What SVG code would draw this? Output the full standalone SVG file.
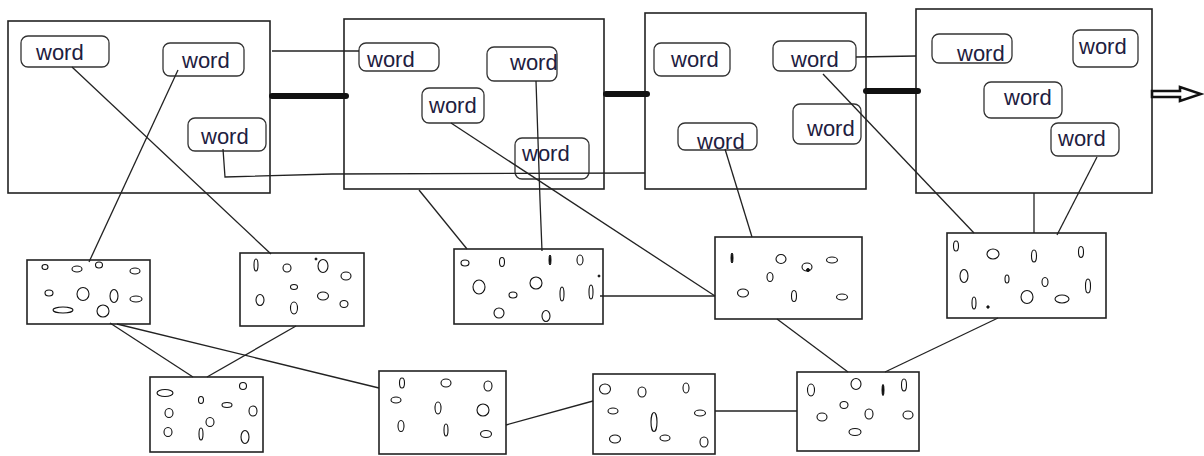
<svg xmlns="http://www.w3.org/2000/svg" width="1204" height="456" viewBox="0 0 1204 456">
<style>
.frame{fill:none;stroke:#222;stroke-width:1.6}
.wbox{fill:none;stroke:#333;stroke-width:1.3}
.wt{font-family:"Liberation Sans",Arial,sans-serif;font-size:22px;fill:#1e2040}
.pool{fill:none;stroke:#222;stroke-width:1.6}
.e{fill:none;stroke:#111;stroke-width:1.1}
.f{fill:#111;stroke:#111;stroke-width:1}
.ln{fill:none;stroke:#222;stroke-width:1.3}
.thick{fill:none;stroke:#111;stroke-width:6;stroke-linecap:round}
</style>
<rect x="0" y="0" width="1204" height="456" fill="#ffffff"/>

<!-- top frames -->
<g id="frame1"><rect class="frame" x="8" y="21" width="262" height="172"/></g>
<g id="frame2"><rect class="frame" x="344" y="19" width="260" height="170"/></g>
<g id="frame3"><rect class="frame" x="645" y="13" width="221" height="176"/></g>
<g id="frame4"><rect class="frame" x="916" y="9" width="236" height="184"/></g>

<!-- word nodes -->
<g id="w1"><rect class="wbox" x="21" y="36" width="88" height="31" rx="7"/><text class="wt" x="36" y="60">word</text></g>
<g id="w2"><rect class="wbox" x="163" y="43" width="81" height="33" rx="7"/><text class="wt" x="182" y="68">word</text></g>
<g id="w3"><rect class="wbox" x="188" y="118" width="78" height="33" rx="7"/><text class="wt" x="201" y="144">word</text></g>
<g id="w4"><rect class="wbox" x="359" y="43" width="80" height="28" rx="7"/><text class="wt" x="367" y="67">word</text></g>
<g id="w5"><rect class="wbox" x="487" y="47" width="70" height="34" rx="7"/><text class="wt" x="510" y="70">word</text></g>
<g id="w6"><rect class="wbox" x="422" y="88" width="62" height="35" rx="7"/><text class="wt" x="429" y="113">word</text></g>
<g id="w7"><rect class="wbox" x="515" y="138" width="74" height="41" rx="7"/><text class="wt" x="522" y="161">word</text></g>
<g id="w8"><rect class="wbox" x="654" y="43" width="76" height="33" rx="7"/><text class="wt" x="671" y="67">word</text></g>
<g id="w9"><rect class="wbox" x="773" y="41" width="83" height="30" rx="7"/><text class="wt" x="791" y="67">word</text></g>
<g id="w10"><rect class="wbox" x="793" y="104" width="68" height="40" rx="7"/><text class="wt" x="807" y="136">word</text></g>
<g id="w11"><rect class="wbox" x="678" y="123" width="79" height="27" rx="7"/><text class="wt" x="697" y="149">word</text></g>
<g id="w12"><rect class="wbox" x="932" y="34" width="80" height="29" rx="7"/><text class="wt" x="957" y="61">word</text></g>
<g id="w13"><rect class="wbox" x="1073" y="30" width="65" height="37" rx="7"/><text class="wt" x="1079" y="54">word</text></g>
<g id="w14"><rect class="wbox" x="984" y="82" width="78" height="36" rx="7"/><text class="wt" x="1004" y="105">word</text></g>
<g id="w15"><rect class="wbox" x="1051" y="123" width="68" height="33" rx="7"/><text class="wt" x="1058" y="146">word</text></g>

<!-- bottom pools -->
<g id="b1"><rect class="pool" x="27" y="260" width="123" height="64"/>
<ellipse class="e" cx="45" cy="267" rx="3" ry="2.5"/><ellipse class="e" cx="77" cy="269" rx="5" ry="3"/><ellipse class="e" cx="99" cy="265" rx="3.5" ry="3"/><ellipse class="e" cx="135" cy="271" rx="5" ry="3"/>
<ellipse class="e" cx="49" cy="293" rx="4" ry="3"/><ellipse class="e" cx="83" cy="294" rx="6" ry="6.5"/><ellipse class="e" cx="114" cy="296" rx="4" ry="6.5"/><ellipse class="e" cx="136" cy="299" rx="6" ry="3"/>
<ellipse class="e" cx="63" cy="310" rx="10" ry="3"/><ellipse class="e" cx="103" cy="311" rx="6" ry="6"/></g>
<g id="b2"><rect class="pool" x="240" y="253" width="124" height="73"/>
<ellipse class="e" cx="256" cy="265" rx="2" ry="6"/><ellipse class="e" cx="287" cy="268" rx="4" ry="4"/><circle class="f" cx="316" cy="259" r="1"/><ellipse class="e" cx="323" cy="266" rx="5" ry="6.5"/><ellipse class="e" cx="346" cy="276" rx="5" ry="4"/>
<ellipse class="e" cx="294" cy="287" rx="3.5" ry="2.5"/><ellipse class="e" cx="260" cy="300" rx="4" ry="5.5"/><ellipse class="e" cx="294" cy="308" rx="3.5" ry="6"/><ellipse class="e" cx="323" cy="296" rx="5.5" ry="4"/><ellipse class="e" cx="344" cy="304" rx="4" ry="3.5"/></g>
<g id="b3"><rect class="pool" x="454" y="249" width="149" height="75"/>
<ellipse class="e" cx="465" cy="263" rx="4" ry="3"/><ellipse class="e" cx="502" cy="262" rx="2.5" ry="4.5"/><ellipse class="f" cx="550" cy="260" rx="1" ry="5"/><ellipse class="e" cx="580" cy="260" rx="3" ry="5"/><circle class="f" cx="599" cy="276" r="1"/>
<ellipse class="e" cx="479" cy="287" rx="6" ry="7"/><ellipse class="e" cx="513" cy="295" rx="4" ry="3"/><ellipse class="e" cx="536" cy="283" rx="6" ry="6"/><ellipse class="e" cx="562" cy="294" rx="2" ry="7"/><ellipse class="e" cx="591" cy="292" rx="2" ry="7"/>
<ellipse class="e" cx="499" cy="313" rx="5" ry="5"/><ellipse class="e" cx="546" cy="316" rx="4" ry="5.5"/></g>
<g id="b4"><rect class="pool" x="715" y="237" width="147" height="82"/>
<ellipse class="f" cx="732" cy="258" rx="1" ry="5"/><ellipse class="e" cx="781" cy="259" rx="5" ry="4.5"/><ellipse class="e" cx="832" cy="260" rx="5.5" ry="3"/><ellipse class="e" cx="807" cy="267" rx="5" ry="4"/><circle class="f" cx="808" cy="270" r="1.5"/>
<ellipse class="e" cx="770" cy="277" rx="3" ry="4.5"/><ellipse class="e" cx="743" cy="293" rx="5.5" ry="4"/><ellipse class="e" cx="794" cy="296" rx="2.5" ry="5.5"/><ellipse class="e" cx="842" cy="297" rx="5.5" ry="3"/></g>
<g id="b5"><rect class="pool" x="947" y="233" width="159" height="85"/>
<ellipse class="e" cx="956" cy="246" rx="2.5" ry="5"/><ellipse class="e" cx="993" cy="254" rx="6" ry="5"/><ellipse class="e" cx="1034" cy="256" rx="2.5" ry="6" stroke-width="1.6"/><ellipse class="e" cx="1081" cy="252" rx="2.5" ry="5.5"/>
<ellipse class="e" cx="964" cy="276" rx="4" ry="6.5"/><ellipse class="e" cx="1007" cy="279" rx="2" ry="4"/><ellipse class="e" cx="1045" cy="282" rx="3" ry="4.5"/><ellipse class="e" cx="1088" cy="286" rx="2.5" ry="7" stroke-width="1.6"/>
<ellipse class="e" cx="974" cy="303" rx="2" ry="6" stroke-width="1.6"/><circle class="f" cx="988" cy="307" r="1.2"/><ellipse class="e" cx="1027" cy="297" rx="6" ry="6.5"/><ellipse class="e" cx="1062" cy="299" rx="7" ry="4"/></g>
<g id="b6"><rect class="pool" x="150" y="377" width="113" height="75"/>
<ellipse class="e" cx="165" cy="393" rx="8" ry="3.5"/><ellipse class="e" cx="243" cy="386" rx="3.5" ry="3.5"/><ellipse class="e" cx="201" cy="400" rx="2.5" ry="3.5"/><ellipse class="e" cx="227" cy="405" rx="5" ry="2.5"/>
<ellipse class="e" cx="169" cy="413" rx="4" ry="4.5"/><ellipse class="e" cx="253" cy="411" rx="4" ry="5"/><ellipse class="e" cx="210" cy="422" rx="4" ry="4.5"/>
<ellipse class="e" cx="168" cy="432" rx="4" ry="4.5"/><ellipse class="e" cx="201" cy="434" rx="2" ry="6"/><ellipse class="e" cx="245" cy="437" rx="4" ry="6.5"/></g>
<g id="b7"><rect class="pool" x="379" y="371" width="127" height="83"/>
<ellipse class="e" cx="402" cy="383" rx="2.5" ry="5"/><ellipse class="e" cx="446" cy="383" rx="5" ry="4"/><ellipse class="e" cx="488" cy="386" rx="4" ry="5"/>
<ellipse class="e" cx="396" cy="400" rx="5" ry="3"/><ellipse class="e" cx="438" cy="408" rx="3" ry="6"/><ellipse class="e" cx="483" cy="410" rx="6" ry="6"/>
<ellipse class="e" cx="401" cy="426" rx="3" ry="5.5"/><ellipse class="e" cx="446" cy="430" rx="2" ry="6"/><ellipse class="e" cx="486" cy="434" rx="5.5" ry="3.5"/></g>
<g id="b8"><rect class="pool" x="593" y="374" width="122" height="80"/>
<ellipse class="e" cx="605" cy="389" rx="5.5" ry="5"/><ellipse class="e" cx="642" cy="392" rx="4" ry="5"/><ellipse class="e" cx="686" cy="388" rx="3" ry="5"/>
<ellipse class="e" cx="613" cy="411" rx="5" ry="3"/><ellipse class="e" cx="654" cy="422" rx="3" ry="9.5"/><ellipse class="e" cx="700" cy="413" rx="5.5" ry="3"/>
<ellipse class="e" cx="615" cy="439" rx="5.5" ry="4"/><ellipse class="e" cx="665" cy="438" rx="5" ry="3"/><ellipse class="e" cx="704" cy="442" rx="4" ry="5"/></g>
<g id="b9"><rect class="pool" x="797" y="372" width="122" height="79"/>
<ellipse class="e" cx="811" cy="390" rx="3.5" ry="6"/><ellipse class="e" cx="856" cy="384" rx="5" ry="5.5"/><ellipse class="f" cx="883" cy="390" rx="1" ry="5.5"/><ellipse class="e" cx="904" cy="385" rx="2.5" ry="6" stroke-width="1.5"/>
<ellipse class="e" cx="844" cy="405" rx="4" ry="3.5"/><ellipse class="e" cx="822" cy="417" rx="5" ry="4"/><ellipse class="e" cx="869" cy="414" rx="4" ry="5"/><ellipse class="e" cx="908" cy="415" rx="5" ry="4"/>
<ellipse class="e" cx="855" cy="432" rx="6" ry="3.5"/></g>

<!-- connectors -->
<g id="connectors">
<line class="thick" x1="272" y1="96" x2="346" y2="96"/>
<line class="thick" x1="606" y1="94" x2="647" y2="94"/>
<line class="thick" x1="866" y1="91" x2="918" y2="91"/>
<path d="M1152,91 L1180,91 L1180,87 L1201,94 L1180,101 L1180,97 L1152,97 Z" fill="#fff" stroke="#111" stroke-width="2.6" stroke-linejoin="miter"/>
<line class="ln" x1="272" y1="51" x2="359" y2="51"/>
<polyline class="ln" points="223,149 225,177 332,174 645,173"/>
<line class="ln" x1="856" y1="57" x2="916" y2="56"/>
<line class="ln" x1="72" y1="67" x2="271" y2="254"/>
<line class="ln" x1="178" y1="70" x2="89" y2="262"/>
<polyline class="ln" points="536,81 540,200 542,251"/>
<line class="ln" x1="451" y1="123" x2="715" y2="296"/>
<line class="ln" x1="419" y1="190" x2="467" y2="249"/>
<line class="ln" x1="725" y1="149" x2="752" y2="237"/>
<line class="ln" x1="823" y1="74" x2="974" y2="233"/>
<line class="ln" x1="1034" y1="193" x2="1034" y2="233"/>
<line class="ln" x1="1097" y1="157" x2="1057" y2="235"/>
<line class="ln" x1="110" y1="323" x2="193" y2="377"/>
<line class="ln" x1="117" y1="324" x2="379" y2="388"/>
<line class="ln" x1="296" y1="326" x2="207" y2="377"/>
<line class="ln" x1="600" y1="296" x2="715" y2="296"/>
<line class="ln" x1="506" y1="425" x2="593" y2="401"/>
<line class="ln" x1="715" y1="411" x2="797" y2="411"/>
<line class="ln" x1="777" y1="319" x2="848" y2="372"/>
<line class="ln" x1="998" y1="318" x2="885" y2="372"/>
</g>
</svg>
